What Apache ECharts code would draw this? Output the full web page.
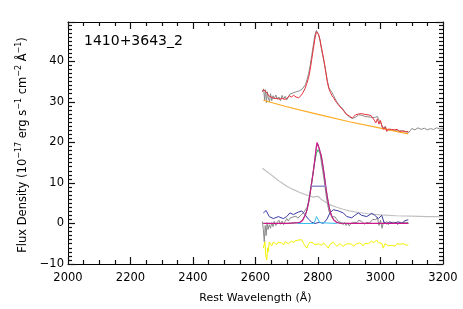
<!DOCTYPE html>
<html><head><meta charset="utf-8">
<script src="https://cdn.jsdelivr.net/npm/echarts@6/dist/echarts.min.js"></script>
<style>html,body{margin:0;padding:0;background:#fff}#c{width:463px;height:309px}</style>
</head><body><div id="c"></div>
<script>
// ---- data ----
const xTicks = [2000, 2200, 2400, 2600, 2800, 3000, 3200];
const yTicks = [-10, 0, 10, 20, 30, 40];
const labelText = '1410+3643_2';

const obsWave = [2622,2626,2629,2632,2635,2638,2641,2645,2648,2652,2656,2660,2665,2670,2675,2680,2685,2690,2695,2700,2705,2710,2715,2720,2725,2730,2735,2740,2745,2750,2755,2760,2765,2770,2775,2780,2785,2790,2795,2798,2802,2806,2810,2815,2820,2825,2830,2835,2840,2845,2850,2855,2860,2865,2870,2875,2880,2885,2890,2895,2900,2905,2910,2915,2920,2925,2930,2935,2940,2945,2950,2955,2960,2965,2970,2975,2980,2985,2990,2995,3000,3005,3010,3015,3020,3025,3030,3035,3040,3045,3050,3055,3060,3065,3070,3075,3080,3085,3090,3095,3100,3110,3120,3130,3140,3150,3160,3170,3180,3190,3200];
const obsFlux = [32.5,33.2,30.5,33,29.8,32.5,31,30,32,30.3,31.5,30.8,31.7,30.6,31.2,30.3,31.6,30.7,31.4,30.5,31.2,31.9,31.5,32.2,32,32.5,32.1,32.7,32.5,33.2,33.5,34.3,35.5,37,39,41.5,44,46.5,47.6,47.8,46.5,45.2,43.5,41.5,39.5,37.5,35.2,33.5,32.8,32.3,31.5,30.8,30,29.5,29,28.7,28.2,27.6,27,26.6,26.3,26.2,25.9,25.8,26.2,26.5,26.8,26.9,26.7,26.5,26.4,26.7,26.3,26.5,26.2,26.6,26.1,25.8,26.4,25.5,25.9,24.2,23.5,24,23.2,23.6,23,23.4,23.1,23.5,22.9,23.3,22.8,23.2,22.9,23.3,22.7,23.1,22.4,22.9,23.4,23.1,23.6,23.2,23.5,23.1,23.4,23.2,23.6,23.3,23.5];

const modelWave = [2622,2626,2632,2637,2642,2648,2655,2662,2670,2678,2685,2692,2700,2708,2715,2722,2730,2738,2745,2752,2758,2764,2770,2775,2780,2785,2790,2795,2798,2802,2806,2810,2815,2820,2825,2830,2835,2840,2845,2850,2855,2860,2865,2870,2875,2880,2885,2890,2895,2900,2905,2910,2915,2920,2925,2930,2935,2940,2945,2950,2955,2960,2965,2970,2975,2980,2985,2990,2995,3000,3005,3010,3015,3020,3025,3030,3035,3040,3045,3050,3055,3060,3065,3070,3075,3080,3085,3089];
const modelFlux = [32.5,33.0,33.3,32.2,31.5,31.3,31.0,30.8,30.9,30.6,30.9,30.6,30.8,31.5,31.2,31.6,31.2,31.0,31.5,32.3,33.2,34.5,36.0,38.0,40.5,43.0,45.5,47.3,47.7,46.6,45.5,43.8,41.8,39.8,37.2,34.8,33.2,32.3,31.5,31.0,30.3,29.8,29.3,28.8,28.5,28.0,27.5,27.0,26.7,26.5,26.3,26.0,26.3,26.8,27.2,27.0,26.9,27.1,26.7,26.9,26.6,26.8,26.4,26.6,26.2,25.5,24.8,25.8,24.5,25.4,23.8,23.2,23.8,22.7,23.3,22.9,23.2,22.8,23.1,22.8,23.2,22.7,23.0,22.8,23.2,22.6,23.0,22.7];

const contWave = [2625,2700,2800,2900,3000,3089];
const contFlux = [30.4,28.8,26.9,25.1,23.5,22.1];

const resWave = [2622,2625,2628,2631,2634,2637,2640,2644,2648,2652,2656,2660,2665,2670,2675,2680,2685,2690,2695,2700,2705,2710,2715,2720,2725,2730,2735,2740,2745,2750,2755,2760,2765,2770,2775,2780,2785,2790,2795,2800,2805,2810,2815,2820,2825,2830,2835,2840,2845,2850,2855,2860,2865,2870,2875,2880,2885,2890,2895,2900,2905,2910,2915,2920,2925,2930,2935,2940,2945,2950,2955,2960,2965,2970,2975,2980,2985,2990,2995,3000,3005,3010,3015,3020,3025,3030,3035,3040,3045,3050,3055,3060,3065,3070,3075,3080,3085,3089];
const resFlux = [0.5,-1.5,-4.5,-0.5,-3,0.2,-1.5,-0.3,-1.2,0.2,-0.8,0.5,-0.5,0.3,0.8,-0.2,0.6,-0.3,0.5,1.2,0.6,1.3,0.9,1.6,1.2,1.8,1.3,1.6,2.0,2.3,2.8,3.2,4.0,5.5,8,10.5,13,16,18.8,19.5,18,15.5,13,10.5,7.5,5,3,2.2,1.7,1.3,1.6,1.0,0.5,0.9,0.2,-0.3,0.2,-0.5,0.1,-0.6,0,-0.3,0.3,0.6,0.2,0.8,0.4,0.5,0.1,-0.2,0.3,0.6,0.1,0.5,1.0,0.6,0.9,1.5,-0.5,0.8,-1.2,0.5,0,0.5,-0.3,0.2,-0.2,0.3,-0.1,0.2,-0.3,0.3,0,0.2,-0.2,0.3,0,0.2];

const feWave = [2625,2634,2644,2657,2673,2689,2700,2710,2721,2737,2748,2758,2769,2780,2790,2806,2817,2829,2838,2849,2865,2881,2892,2908,2918,2929,2940,2956,2972,2982,2993,3004,3011,3020,3030,3041,3057,3068,3078,3089];
const feFlux = [2.6,3.2,1.7,1.2,1.7,1.2,1.7,2.6,2.2,2.8,3.1,2.2,1.1,0.3,0,0.3,0,1.1,2.6,3.4,3.1,2.6,1.7,1.4,2.0,2.6,2.0,1.7,2.5,2.0,1.2,2.0,0.3,-0.1,0.4,0,0.4,0,0.7,0.9];

const broadWave = [2625,2700,2740,2750,2760,2765,2770,2775,2780,2785,2790,2795,2800,2802,2805,2810,2815,2820,2825,2830,2835,2840,2845,2850,2855,2860,2870,2900,3089];
const broadFlux = [0,0,0.2,0.7,2.2,3.4,5.2,7.5,10.1,12.8,15.3,17.3,18.2,18.3,18.1,16.9,14.6,12.0,9.0,6.4,4.3,2.7,1.6,0.9,0.5,0.25,0.05,0,0];

const totalWave = [2625,2700,2740,2750,2760,2765,2770,2775,2780,2785,2788,2791,2794,2797,2799,2801,2804,2807,2810,2815,2820,2825,2830,2835,2840,2845,2850,2855,2860,2870,2900,3089];
const totalFlux = [0,0,0.2,0.7,2.2,3.4,5.2,7.5,10.1,12.8,14.5,16.5,18.6,20.0,20.2,19.7,18.5,17.6,16.9,14.6,12.0,9.0,6.4,4.3,2.7,1.6,0.9,0.5,0.25,0.05,0,0];

const narrowWave = [2735,2786,2789,2792,2795,2797,2799,2802,2805,2808,2860];
const narrowFlux = [0,0,0.3,0.9,1.7,1.9,1.6,0.8,0.2,0,0];

const fwhmWave = [2778, 2826];
const fwhmFlux = [9.15, 9.15];

const errWave = [2622,2640,2660,2680,2700,2720,2740,2760,2775,2785,2795,2802,2810,2820,2830,2845,2860,2880,2900,2930,2960,3000,3050,3100,3150,3200];
const errFlux = [13.6,12.6,11.4,10.2,9.2,8.4,7.7,7.1,6.7,6.5,6.7,6.6,6.0,5.5,5.0,4.4,4.0,3.5,3.1,2.7,2.4,2.1,1.9,1.8,1.7,1.7];

const yelWave = [2625,2630,2633,2636,2639,2641,2644,2646,2652,2657,2662,2668,2673,2678,2684,2690,2695,2700,2705,2710,2716,2721,2726,2732,2737,2742,2748,2753,2758,2764,2769,2774,2780,2785,2790,2796,2801,2806,2812,2817,2822,2828,2833,2838,2844,2849,2854,2860,2865,2870,2876,2881,2886,2892,2897,2902,2908,2913,2918,2924,2929,2934,2940,2945,2950,2956,2961,2966,2972,2977,2982,2988,2993,2998,3004,3009,3014,3020,3025,3030,3036,3041,3046,3052,3057,3062,3068,3073,3078,3084,3089];
const yelFlux = [-6.1,-4.5,-8.0,-9.0,-6.0,-6.9,-4.6,-4.8,-5.5,-4.6,-4.4,-5.2,-4.6,-5.0,-4.8,-5.3,-4.5,-4.4,-5.0,-4.6,-4.3,-4.8,-4.3,-4.6,-4.1,-4.5,-4.0,-4.8,-5.4,-6.1,-5.2,-4.6,-4.3,-4.8,-5.3,-5.7,-5.0,-4.6,-5.4,-4.8,-5.0,-5.6,-6.1,-5.2,-4.8,-4.6,-5.1,-5.6,-5.4,-5.0,-5.3,-5.7,-5.2,-5.4,-5.0,-5.3,-5.1,-5.6,-5.3,-5.0,-5.3,-4.8,-5.2,-5.5,-4.9,-4.5,-5.0,-4.6,-4.3,-4.8,-4.5,-4.1,-4.7,-4.4,-4.9,-6.1,-5.0,-4.8,-5.5,-5.1,-5.4,-5.2,-5.6,-5.0,-5.3,-5.1,-5.3,-5.0,-5.2,-5.4,-5.2];

// ---- chart ----
const pairs = (w, f) => w.map((x, i) => [x, f[i]]);
const ser = (name, w, f, color, width, z) => ({
  name, type: 'line', data: pairs(w, f), showSymbol: false, symbol: 'none',
  lineStyle: { color, width }, z, animation: false,
  xAxisIndex: 0, yAxisIndex: 0
});

const fontFam = '"DejaVu Sans", sans-serif';
function mkAxis(extra, split) {
  return Object.assign({
    type: 'value',
    axisLine: { show: true, onZero: false, lineStyle: { color: '#000', width: 1 } },
    axisTick: { show: true, inside: true, length: 7, lineStyle: { color: '#111', width: 1.2 } },
    minorTick: { show: true, splitNumber: split, length: 4, lineStyle: { color: '#111', width: 1.2 } },
    splitLine: { show: false }
  }, extra);
}

const chart = echarts.init(document.getElementById('c'));
chart.setOption({
  animation: false,
  grid: { left: 68, right: 20, top: 22, bottom: 45 },
  xAxis: [
    mkAxis({
      min: xTicks[0], max: xTicks[xTicks.length - 1], interval: 200, position: 'bottom',
      axisLabel: { color: '#000', fontSize: 11.5, fontFamily: fontFam, margin: 8, formatter: v => String(v) },
      name: 'Rest Wavelength (Å)', nameLocation: 'middle', nameGap: 29,
      nameTextStyle: { color: '#000', fontSize: 11, fontFamily: fontFam }
    }, 4),
    mkAxis({
      min: xTicks[0], max: xTicks[xTicks.length - 1], interval: 200, position: 'top',
      axisLabel: { show: false }
    }, 4)
  ],
  yAxis: [
    mkAxis({
      min: yTicks[0], max: 49.7, interval: 10, position: 'left',
      axisLabel: { color: '#000', fontSize: 11.5, fontFamily: fontFam, margin: 4, showMaxLabel: false,
        formatter: v => (yTicks.indexOf(v) >= 0 ? String(v).replace('-', '\u2212') : '') },
      name: '{n|Flux Density (10}{s|\u221217}{n| erg s}{s|\u22121}{n| cm}{s|\u22122}{n| Å}{s|\u22121}{n|)}',
      nameLocation: 'middle', nameGap: 29, nameRotate: 90,
      nameTextStyle: { color: '#000', fontFamily: fontFam, padding: [0, 4, 0, 0],
        rich: { n: { fontSize: 11.5, fontFamily: fontFam, color: '#000' },
                s: { fontSize: 8, fontFamily: fontFam, color: '#000', padding: [0, 0, 7, 0] } } }
    }, 10),
    mkAxis({
      min: yTicks[0], max: 49.7, interval: 10, position: 'right',
      axisLabel: { show: false }
    }, 10)
  ],
  graphic: [{
    type: 'text', left: 84, top: 34, silent: true,
    style: { text: labelText, fontSize: 14, fontFamily: fontFam, fill: '#000' }
  }],
  series: [
    ser('err', errWave, errFlux, '#c0c0c0', 1.2, 3),
    ser('yellow', yelWave, yelFlux, '#f2f200', 1, 3),
    ser('resid', resWave, resFlux, '#8a8a8a', 1, 3),
    ser('fe', feWave, feFlux, '#3a3aa6', 1, 4),
    ser('broad', broadWave, broadFlux, '#2fae62', 1, 5),
    ser('total', totalWave, totalFlux, '#cc1a8c', 1.2, 6),
    ser('narrow', narrowWave, narrowFlux, '#33bbee', 1, 7),
    ser('fwhm', fwhmWave, fwhmFlux, '#9090c8', 1.5, 8),
    ser('obs', obsWave, obsFlux, '#8a8a8a', 1, 9),
    ser('cont', contWave, contFlux, '#ffaa22', 1.2, 10),
    ser('model', modelWave, modelFlux, '#e8303a', 1, 11)
  ]
});
</script></body></html>
